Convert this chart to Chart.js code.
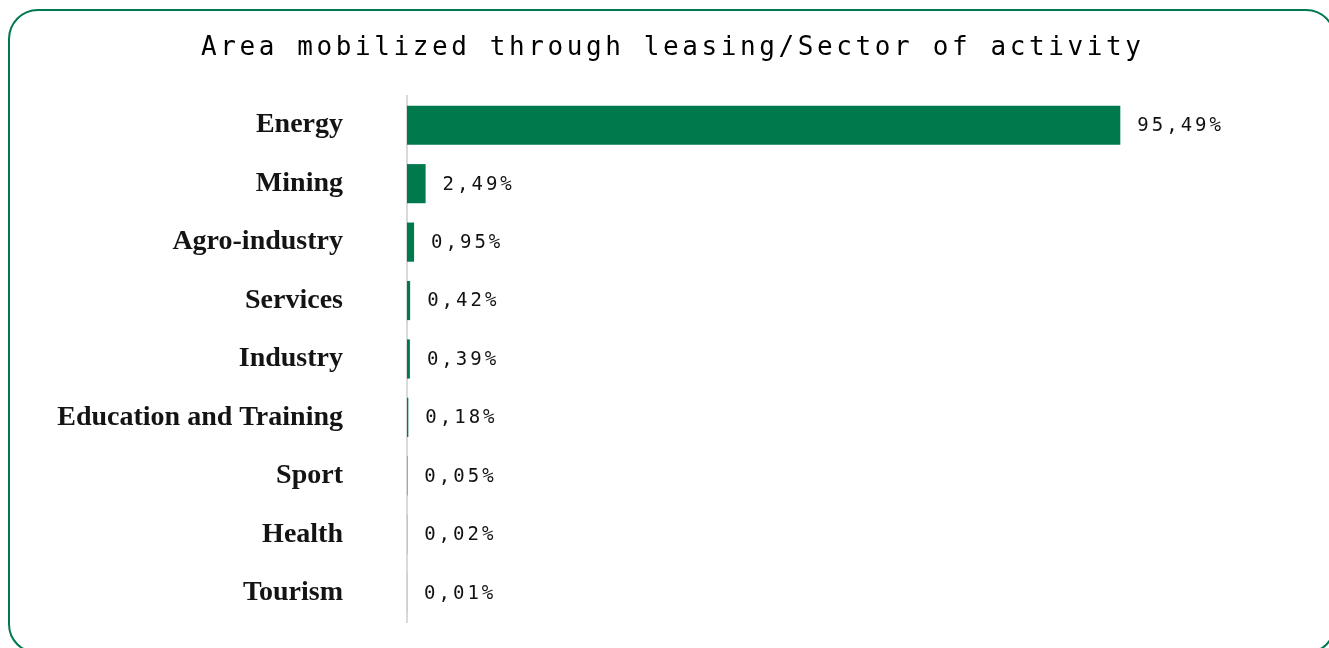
<!DOCTYPE html>
<html>
<head>
<meta charset="utf-8">
<script src="https://cdn.jsdelivr.net/npm/chart.js@4.4.1/dist/chart.umd.min.js"></script>
<style>
    html, body { margin: 0; padding: 0; background: #fff; overflow: hidden; }
    .frame {
        position: absolute;
        left: 8px; top: 9px;
        width: 1324px; height: 641px;
        border: 2px solid #007a4d;
        border-radius: 30px;
    }
    #leasingChart { position: absolute; left: 0; top: 0; }
</style>
</head>
<body>
<div class="frame"></div>
<canvas id="leasingChart" width="1329" height="648"></canvas>
<script>
const chartTitle = 'Area mobilized through leasing/Sector of activity';
const sectors = ['Energy', 'Mining', 'Agro-industry', 'Services', 'Industry',
    'Education and Training', 'Sport', 'Health', 'Tourism'];
const shares = [95.49, 2.49, 0.95, 0.42, 0.39, 0.18, 0.05, 0.02, 0.01];
const xTicks = [0, 100];

const green = '#007a4d';

// spaced-out monospace title (canvas letterSpacing breaks centring, so draw it left aligned)
const titlePlugin = {
    id: 'spacedTitle',
    afterDraw(chart) {
        const ctx = chart.ctx;
        ctx.save();
        ctx.font = '26px "DejaVu Sans Mono"';
        ctx.letterSpacing = '3.6px';
        ctx.fillStyle = '#000';
        ctx.textAlign = 'left';
        ctx.textBaseline = 'alphabetic';
        ctx.fillText(chartTitle, 201, 55);
        ctx.restore();
    }
};

const valueLabels = {
    id: 'valueLabels',
    afterDatasetsDraw(chart) {
        const ctx = chart.ctx;
        const meta = chart.getDatasetMeta(0);
        ctx.save();
        ctx.font = '19px "DejaVu Sans Mono"';
        ctx.letterSpacing = '3px';
        ctx.fillStyle = '#111';
        ctx.textAlign = 'left';
        ctx.textBaseline = 'middle';
        meta.data.forEach((bar, i) => {
            const txt = shares[i].toFixed(2).replace('.', ',') + '%';
            ctx.fillText(txt, bar.x + 17, bar.y + 1);
        });
        ctx.restore();
    }
};

new Chart(document.getElementById('leasingChart'), {
    type: 'bar',
    data: {
        labels: sectors,
        datasets: [{
            data: shares,
            backgroundColor: green,
            borderWidth: 0,
            categoryPercentage: 1,
            barPercentage: 0.67
        }]
    },
    options: {
        indexAxis: 'y',
        responsive: false,
        animation: false,
        layout: { padding: { left: 0, right: 175, top: 96, bottom: 26 } },
        plugins: {
            legend: { display: false },
            tooltip: { enabled: false },
            title: { display: false }
        },
        scales: {
            x: {
                display: false,
                min: xTicks[0],
                max: xTicks[1]
            },
            y: {
                afterFit(scale) {
                    scale.width = 407;
                    // tick padding would otherwise be added above and below the bars
                    scale.paddingTop = 0;
                    scale.paddingBottom = 0;
                },
                grid: { display: false, drawTicks: false },
                border: { display: true, color: '#d9d9d9', width: 2 },
                ticks: {
                    padding: 64,
                    color: '#141414',
                    font: { family: '"Liberation Serif"', size: 28, weight: 'bold' }
                }
            }
        }
    },
    plugins: [titlePlugin, valueLabels]
});
</script>
</body>
</html>
